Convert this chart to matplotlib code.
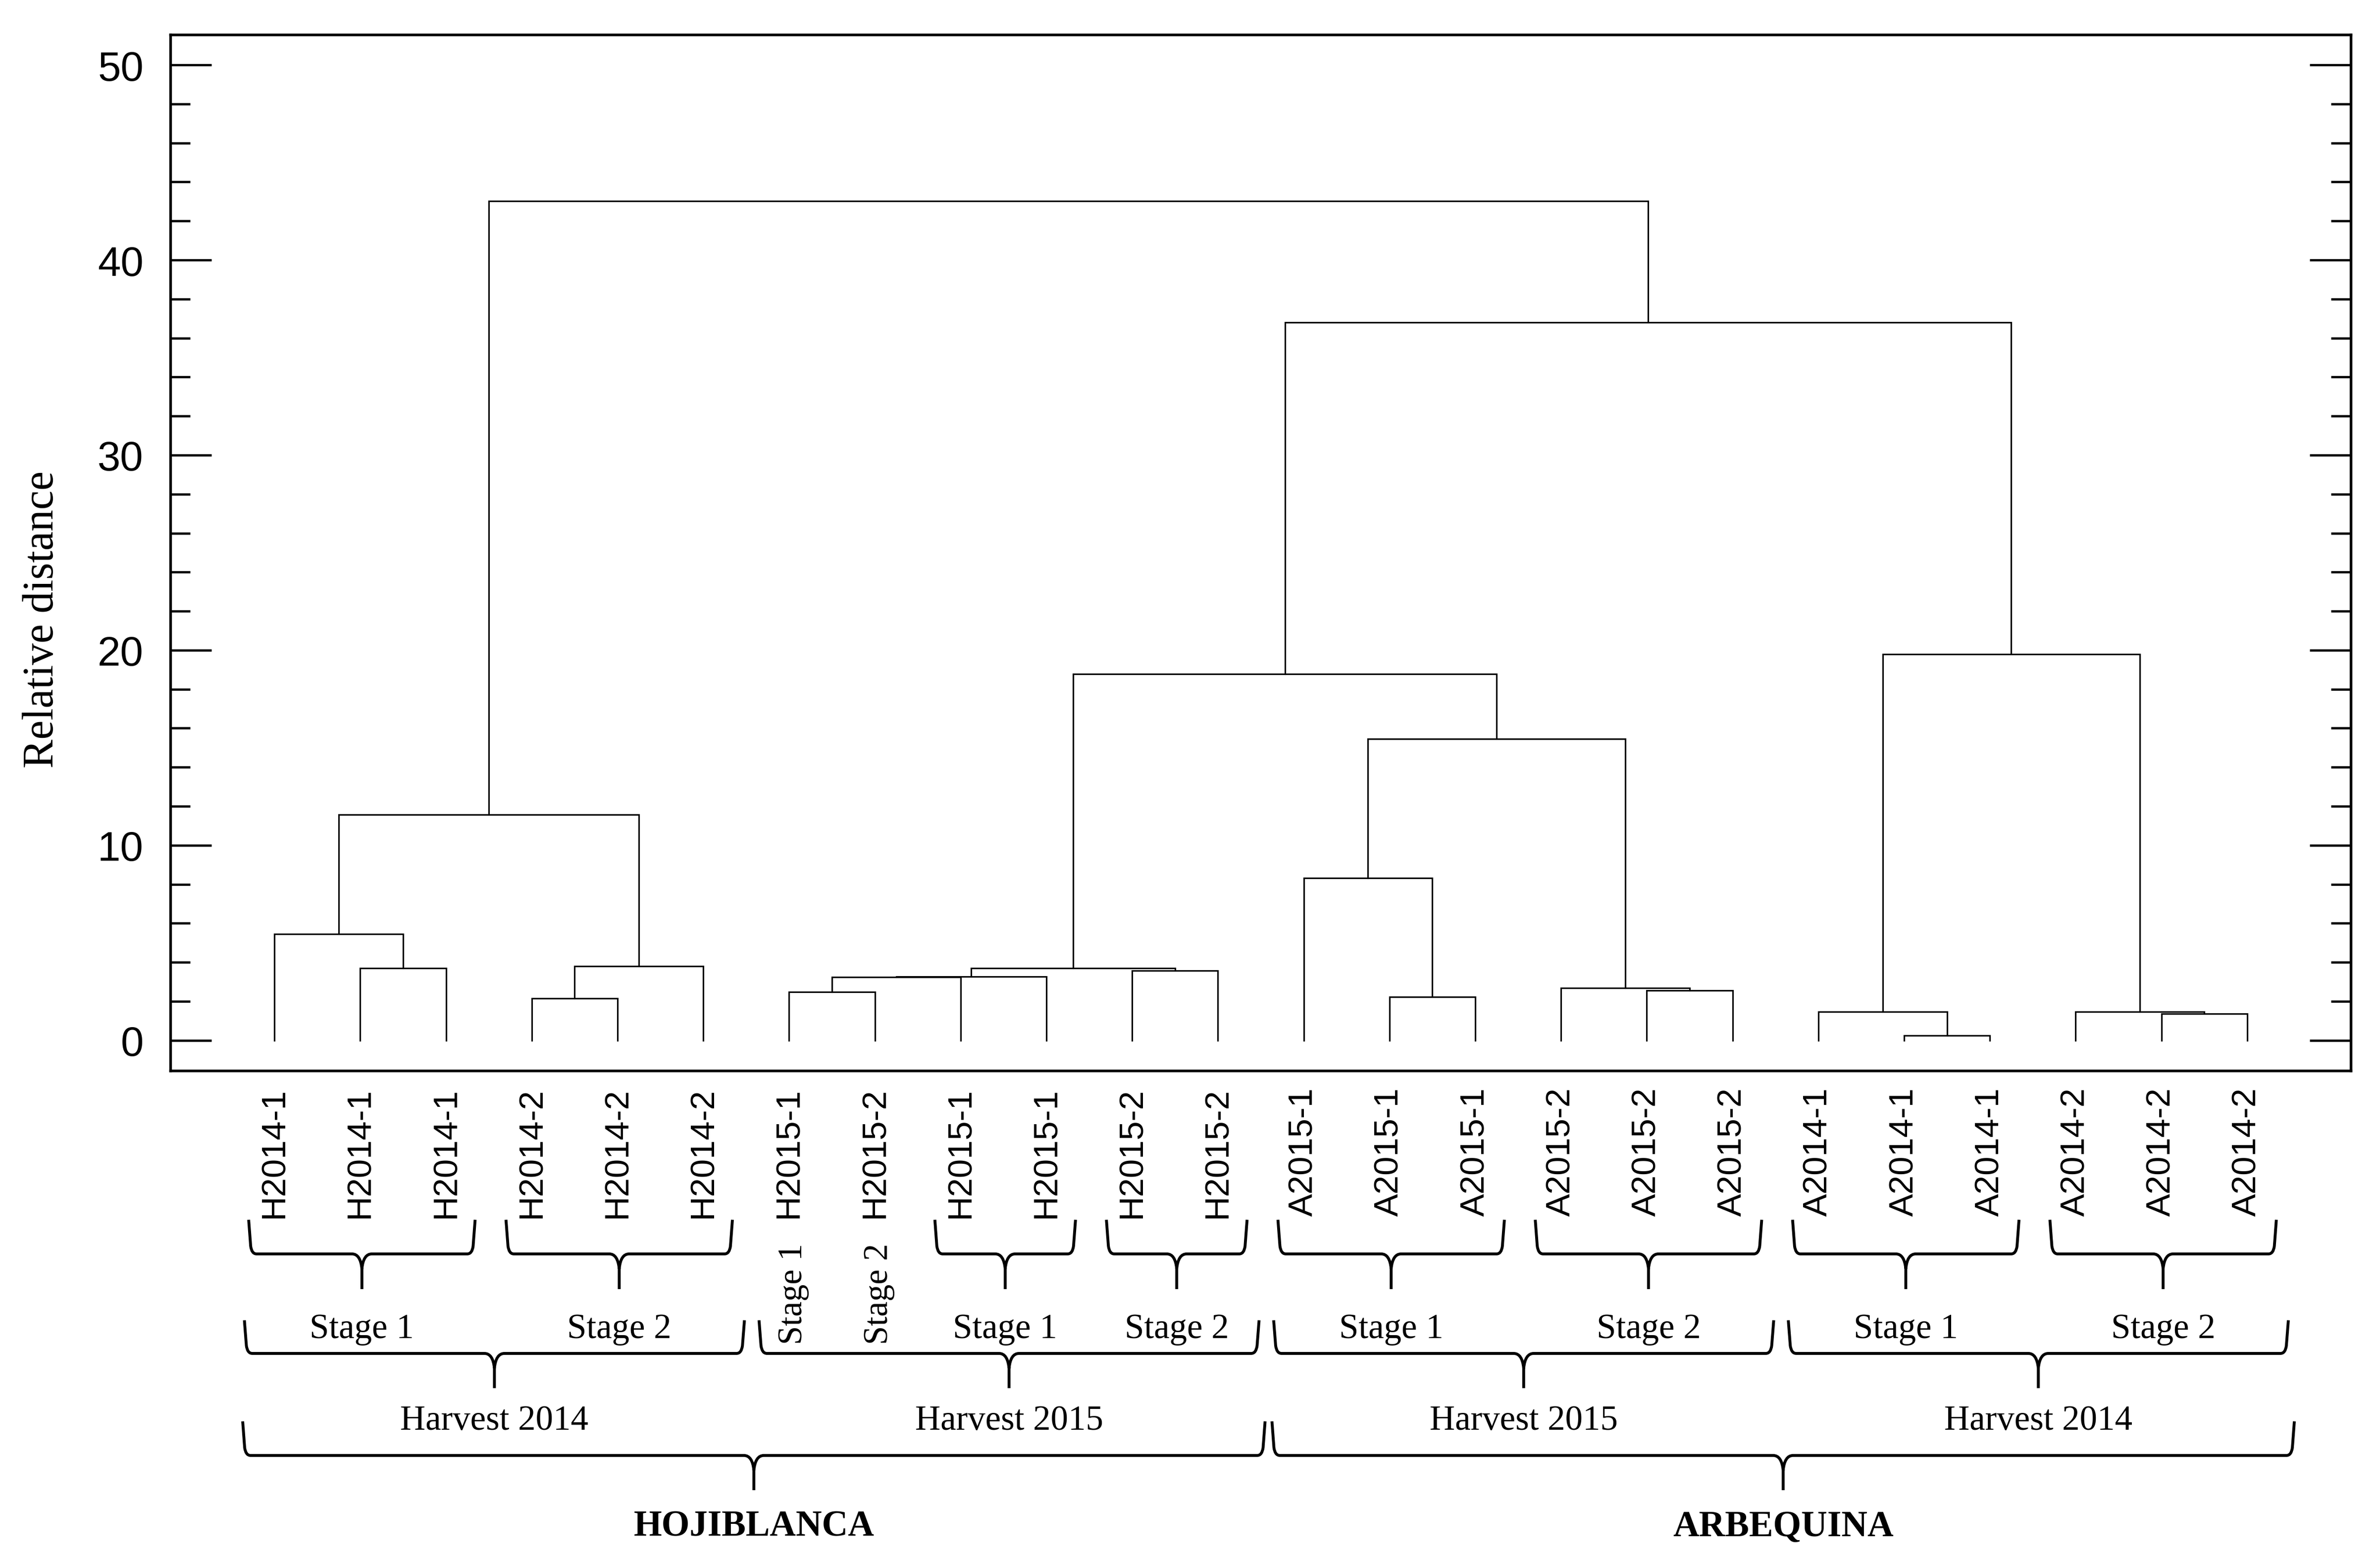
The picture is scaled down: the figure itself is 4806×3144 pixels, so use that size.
import matplotlib.pyplot as plt
import matplotlib.transforms as mtransforms
from matplotlib.path import Path
from matplotlib.patches import PathPatch
from matplotlib.ticker import MultipleLocator

# leaves, left to right
leaf_labels = ['H2014-1', 'H2014-1', 'H2014-1', 'H2014-2', 'H2014-2', 'H2014-2',
               'H2015-1', 'H2015-2', 'H2015-1', 'H2015-1', 'H2015-2', 'H2015-2',
               'A2015-1', 'A2015-1', 'A2015-1', 'A2015-2', 'A2015-2', 'A2015-2',
               'A2014-1', 'A2014-1', 'A2014-1', 'A2014-2', 'A2014-2', 'A2014-2']

# merges: ids < 24 are leaves, new clusters get 24, 25, ...
merge_left = [1, 0, 3, 26, 25,
              6, 29, 30, 10, 31,
              13, 12, 16, 15, 35, 33,
              19, 18, 22, 21, 41, 39, 28]
merge_right = [2, 24, 4, 5, 27,
               7, 8, 9, 11, 32,
               14, 34, 17, 36, 37, 38,
               20, 40, 23, 42, 43, 44, 45]
merge_height = [3.69, 5.46, 2.14, 3.80, 11.58,
                2.47, 3.24, 3.28, 3.58, 3.69,
                2.23, 8.31, 2.57, 2.68, 15.45, 18.79,
                0.25, 1.47, 1.36, 1.47, 19.80, 36.81, 43.02]

# annotation groups (first leaf, last leaf, text), leaves numbered from 1
stage_groups = [(1, 3, 'Stage 1'), (4, 6, 'Stage 2'), (9, 10, 'Stage 1'), (11, 12, 'Stage 2'),
                (13, 15, 'Stage 1'), (16, 18, 'Stage 2'), (19, 21, 'Stage 1'), (22, 24, 'Stage 2')]
single_stages = [(7, 'Stage 1'), (8, 'Stage 2')]
harvest_groups = [(1, 6, 'Harvest 2014'), (7, 12, 'Harvest 2015'),
                  (13, 18, 'Harvest 2015'), (19, 24, 'Harvest 2014')]
cultivar_groups = [(1, 12, 'HOJIBLANCA'), (13, 24, 'ARBEQUINA')]

W, H = 4806, 3145
fig = plt.figure(figsize=(W / 300, H / 300), dpi=300)
ax_w = 0.9162
ax = fig.add_axes([0.0716, 0.3123, ax_w, 0.6651])

sans = ['Liberation Sans', 'DejaVu Sans']
serif = ['Liberation Serif', 'DejaVu Serif']

# dendrogram
n = len(leaf_labels)
node_x = [i + 1 for i in range(n)]
node_h = [0.0] * n
for l, r, h in zip(merge_left, merge_right, merge_height):
    xl, xr = node_x[l], node_x[r]
    ax.plot([xl, xl, xr, xr], [node_h[l], h, h, node_h[r]], color='black', lw=0.75,
            solid_joinstyle='miter')
    node_x.append((xl + xr) / 2)
    node_h.append(h)

xlim = (-0.2125, 25.21)
ax.set_xlim(*xlim)
ax.set_ylim(-1.55, 51.55)

ax.set_xticks(range(1, n + 1))
ax.set_xticklabels(leaf_labels, rotation=90, fontsize=16.5, family=sans)
ax.tick_params(axis='x', length=0, pad=8)

ax.yaxis.set_major_locator(MultipleLocator(10))
ax.yaxis.set_minor_locator(MultipleLocator(2))
ax.tick_params(axis='y', which='both', direction='in', left=True, right=True, width=1.1)
ax.tick_params(axis='y', which='major', length=20, pad=13, labelsize=20)
ax.tick_params(axis='y', which='minor', length=9.6)
for lab in ax.get_yticklabels():
    lab.set_family(sans)
for sp in ax.spines.values():
    sp.set_linewidth(1.3)

ax.set_ylabel('Relative distance', fontsize=21, family=serif, va='center')
ax.yaxis.set_label_coords(-0.0587, 0.436)

# braces below the axes: x in data units, y in figure fraction
trans = mtransforms.blended_transform_factory(ax.transData, fig.transFigure)
dx = (xlim[1] - xlim[0]) / (ax_w * W)
dy = 1.0 / H


def brace(x0, x1, top, mid, bot):
    xm = (x0 + x1) / 2
    verts = [(x0, top), (x0 + 4 * dx, mid + 16 * dy), (x0 + 6 * dx, mid), (x0 + 16 * dx, mid),
             (xm - 20 * dx, mid), (xm - 3 * dx, mid), (xm, mid - 30 * dy), (xm, bot),
             (xm, mid - 30 * dy), (xm + 3 * dx, mid), (xm + 20 * dx, mid),
             (x1 - 16 * dx, mid), (x1 - 6 * dx, mid), (x1 - 4 * dx, mid + 16 * dy), (x1, top)]
    codes = [Path.MOVETO, Path.LINETO, Path.CURVE3, Path.CURVE3,
             Path.LINETO, Path.CURVE3, Path.CURVE3, Path.LINETO,
             Path.MOVETO, Path.CURVE3, Path.CURVE3,
             Path.LINETO, Path.CURVE3, Path.CURVE3, Path.LINETO]
    fig.add_artist(PathPatch(Path(verts, codes), fill=False, lw=1.4, color='black',
                             transform=trans, clip_on=False))
    return xm


for a, b, txt in stage_groups:
    xm = brace(a - 0.3, b + 0.34, 0.2165, 0.1946, 0.1720)
    ax.text(xm, 0.1409, txt, transform=trans, ha='center', va='baseline',
            fontsize=17, family=serif)

for a, txt in single_stages:
    ax.text(a + 0.05, 0.1367, txt, transform=trans, ha='center', va='bottom',
            rotation=90, fontsize=16.5, family=serif)

for a, b, txt in harvest_groups:
    xm = brace(a - 0.35, b + 0.48, 0.1520, 0.1307, 0.1084)
    ax.text(xm, 0.0820, txt, transform=trans, ha='center', va='baseline',
            fontsize=17, family=serif)

for a, b, txt in cultivar_groups:
    xm = brace(a - 0.37, b + 0.55, 0.0871, 0.0652, 0.0429)
    ax.text(xm, 0.0137, txt, transform=trans, ha='center', va='baseline',
            fontsize=17.5, family=serif, fontweight='bold')

fig.savefig('out.png', dpi=300)
